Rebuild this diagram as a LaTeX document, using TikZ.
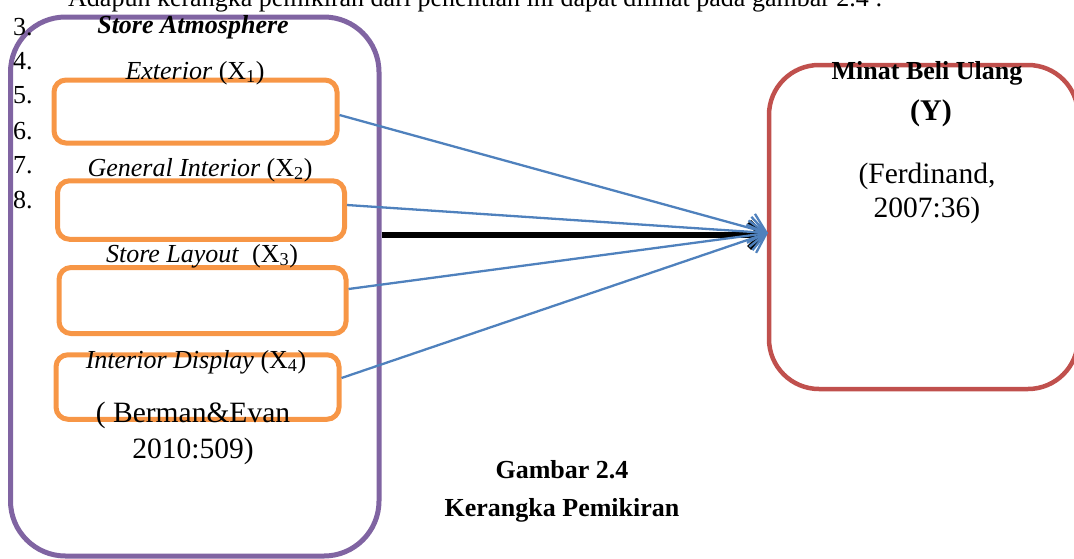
\documentclass[tikz,border=0pt]{standalone}
\usepackage{fontspec}
\setmainfont{Liberation Serif}
\usetikzlibrary{arrows.meta}
\definecolor{purp}{HTML}{8064A2}
\definecolor{oran}{HTML}{F79646}
\definecolor{redb}{HTML}{C0504D}
\definecolor{blu}{HTML}{4F81BD}
\begin{document}
\begin{tikzpicture}[x=1pt,y=-1pt,
  txt/.style={anchor=base, inner sep=0pt, font=\fontsize{26}{31}\selectfont},
  cite/.style={anchor=base, inner sep=0pt, font=\fontsize{29.5}{35}\selectfont},
  bld/.style={anchor=base, inner sep=0pt, font=\fontsize{26}{31}\selectfont\bfseries},
  outerbox/.style={draw=purp, line width=5pt, rounded corners=55pt, inner sep=0pt},
  redbox/.style={draw=redb, line width=4.5pt, rounded corners=50pt, inner sep=0pt},
  obox/.style={draw=oran, line width=5pt, rounded corners=12pt, inner sep=0pt},
  bluearrow/.style={draw=blu, line width=2.3pt, -{Straight Barb[length=16pt,width=30pt]}},
  blackarrow/.style={draw=black, line width=5.5pt, -{Straight Barb[length=13pt,width=26pt]}}
]
\useasboundingbox (0,0) rectangle (1074,558);
\clip (0,0) rectangle (1074,558);

% intro line, cut by the page top
\node[txt, anchor=base west] (intro) at (68,6) {Adapun kerangka pemikiran dari penelitian ini dapat dilihat pada gambar 2.4 :};

% frames
\node[outerbox, minimum width=368.5pt, minimum height=539pt] (outer) at (194.75,286.5) {};
\node[redbox, minimum width=309pt, minimum height=324pt] (red) at (923.5,227) {};
\node[obox, minimum width=283pt, minimum height=63pt] (b1) at (195.5,111.5) {};
\node[obox, minimum width=287pt, minimum height=58.5pt] (b2) at (201,210) {};
\node[obox, minimum width=287pt, minimum height=66pt] (b3) at (202.5,300.5) {};
\node[obox, minimum width=283pt, minimum height=64.5pt] (b4) at (197.5,387) {};

% list numbers
\node[txt, anchor=base west] (n3) at (13,35) {3.};
\node[txt, anchor=base west] (n4) at (13,69) {4.};
\node[txt, anchor=base west] (n5) at (13,103) {5.};
\node[txt, anchor=base west] (n6) at (13,139) {6.};
\node[txt, anchor=base west] (n7) at (13,173) {7.};
\node[txt, anchor=base west] (n8) at (13,208) {8.};

% left labels
\node[txt, font=\fontsize{26}{31}\selectfont\bfseries\itshape] (sa) at (193,33) {Store Atmosphere};
\node[txt] (l1) at (195,79) {\textit{Exterior} (X\textsubscript{1})};
\node[txt] (l2) at (200,176) {\textit{General Interior} (X\textsubscript{2})};
\node[txt] (l3) at (202,262) {\textit{Store Layout}\ \ (X\textsubscript{3})};
\node[txt] (l4) at (196,368) {\textit{Interior Display} (X\textsubscript{4})};
\node[cite] (c1) at (193,422) {( Berman\&Evan};
\node[cite] (c2) at (193,458) {2010:509)};

% right labels
\node[bld] (m1) at (927,79) {Minat Beli Ulang};
\node[bld, font=\fontsize{30}{36}\selectfont\bfseries] (m2) at (931,120) {(Y)};
\node[cite] (m3) at (927,183) {(Ferdinand,};
\node[cite] (m4) at (927,217) {2007:36)};

% caption
\node[bld] (g1) at (562,478) {Gambar 2.4};
\node[bld] (g2) at (562,516) {Kerangka Pemikiran};

% connectors
\coordinate (hubk) at (766,235);
\coordinate (hub) at (768,233);
\draw[blackarrow] (outer.east |- hubk) -- (hubk);
\draw[bluearrow] ([yshift=-3.5pt]b1.east) -- (hub);
\draw[bluearrow] ([yshift=5pt]b2.east) -- (hub);
\draw[bluearrow] ([yshift=11.5pt]b3.east) -- (hub);
\draw[bluearrow] ([yshift=9pt]b4.east) -- (hub);
\end{tikzpicture}
\end{document}
